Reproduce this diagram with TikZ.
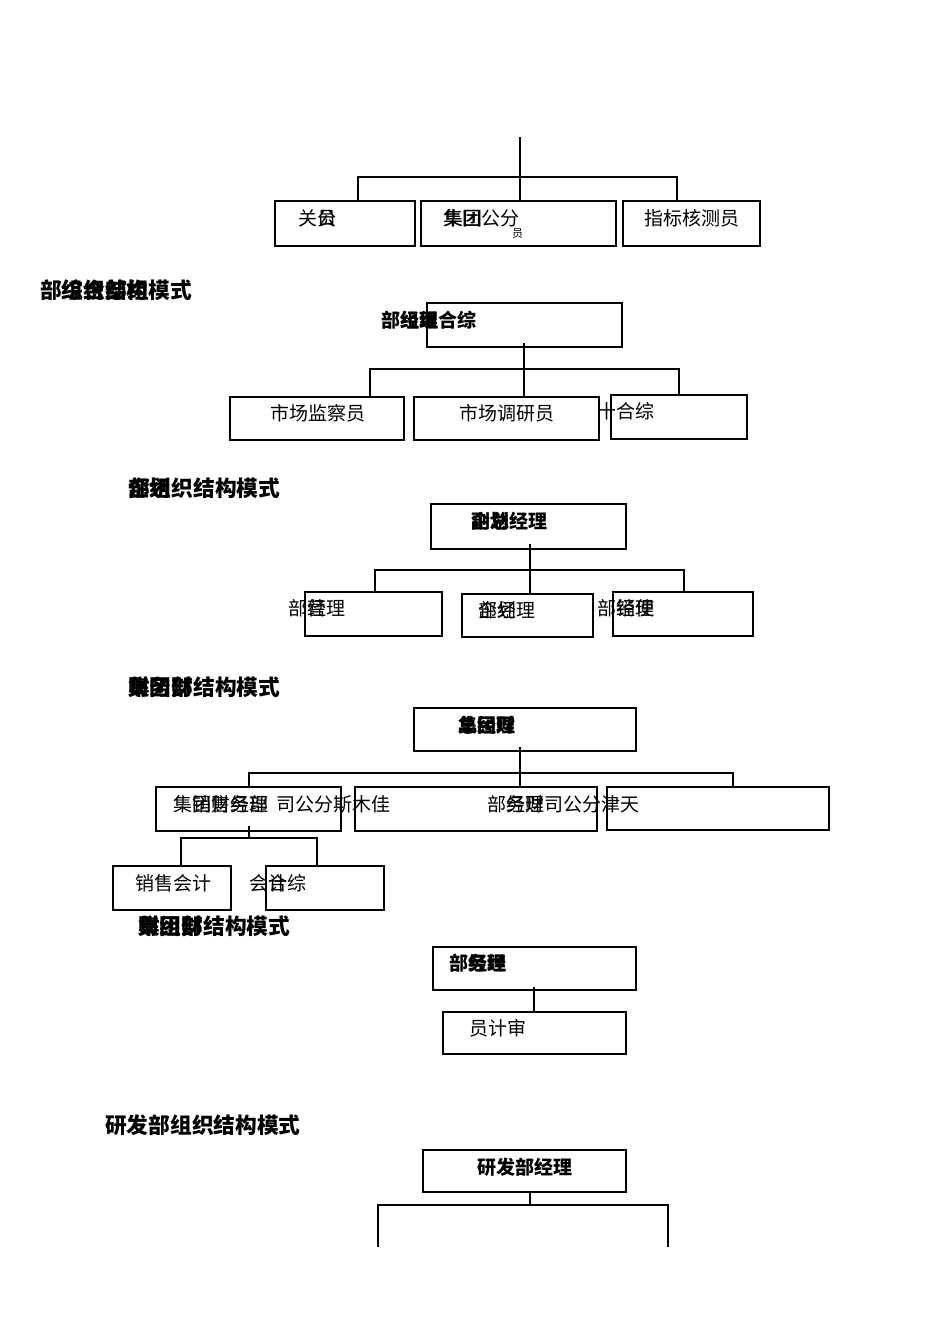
\documentclass[tikz,border=0pt]{standalone}
\usepackage{fontspec}
\newfontfamily\cjk{Noto Sans CJK SC}
\newcommand{\bodyf}{\cjk\fontsize{19}{19}\selectfont}
\newcommand{\headf}{\cjk\bfseries\fontsize{21.7}{21.7}\selectfont}
\newcommand{\boldf}{\cjk\bfseries\fontsize{19}{19}\selectfont}
\begin{document}
\begin{tikzpicture}[x=1pt,y=-1pt,
  box/.style={draw, line width=1.3pt, inner sep=0pt, outer sep=0pt},
  conn/.style={line width=1.3pt},
  lab/.style={inner sep=0pt, anchor=west, font=\bodyf},
  blab/.style={inner sep=0pt, anchor=west, font=\boldf},
  head/.style={inner sep=0pt, anchor=west, font=\headf}]
\useasboundingbox (0,0) rectangle (950,1342);
\fill[white] (0,0) rectangle (950,1342);

% ---------- section 1 ----------
\coordinate (t1) at (520,137);
\node[box, minimum width=140, minimum height=45] (a1) at (345,223.5) {};
\node[box, minimum width=195, minimum height=45] (b1) at (518.5,223.5) {};
\node[box, minimum width=137, minimum height=45] (c1) at (691.5,223.5) {};
\coordinate (h1l) at (358,177);
\coordinate (h1r) at (677,177);
\draw[conn] (t1) -- (t1 |- b1.north);
\draw[conn] (h1l |- a1.north) -- (h1l) -- (h1r) -- (h1r |- c1.north);
\node[lab] (a1t) at (298,218) {关员};
\node[lab] (a1o) at (317,218) {公};
\node[lab] (b1t) at (443,218) {集团公分};
\node[lab] (b1o) at (444,218) {集团};
\node[inner sep=0pt, anchor=west, font=\cjk\fontsize{11}{11}\selectfont] (b1s) at (512,234) {员};
\node[lab] (c1t) at (644,218) {指标核测员};

% ---------- section 2 ----------
\node[head] (h2) at (40,290) {部组织结构模式};
\node[head] (h2o) at (61.7,290) {综合部组};
\node[box, minimum width=195, minimum height=44] (top2) at (524.5,325) {};
\node[blab] (top2t) at (381,320) {部组理合综};
\node[blab] (top2o) at (400,320) {经组};
\node[box, minimum width=174, minimum height=43] (a2) at (317,418.5) {};
\node[box, minimum width=185, minimum height=43] (b2) at (506.5,418.5) {};
\node[box, minimum width=136, minimum height=44] (c2) at (679,417) {};
\coordinate (s2) at (524,343);
\coordinate (h2l) at (370,369);
\coordinate (h2r) at (679,369);
\draw[conn] (s2) -- (s2 |- b2.north);
\draw[conn] (h2l |- a2.north) -- (h2l) -- (h2r) -- (h2r |- c2.north);
\node[lab] (a2t) at (270,413) {市场监察员};
\node[lab] (b2t) at (459,413) {市场调研员};
\node[lab] (c2t) at (597,411) {十合综};

% ---------- section 3 ----------
\node[head] (h3) at (128,488) {部组织结构模式};
\node[head] (h3o) at (128,488) {企划};
\node[box, minimum width=195, minimum height=45] (top3) at (528.5,526.5) {};
\node[blab] (top3t) at (471,521) {副总经理};
\node[blab] (top3o) at (471,521) {企划};
\node[box, minimum width=137, minimum height=44] (a3) at (373.5,614) {};
\node[box, minimum width=131, minimum height=43] (b3) at (527.5,615.5) {};
\node[box, minimum width=140, minimum height=44] (c3) at (683,614) {};
\coordinate (s3) at (530,544);
\coordinate (h3l) at (375,570);
\coordinate (h3r) at (684,570);
\draw[conn] (s3) -- (s3 |- b3.north);
\draw[conn] (h3l |- a3.north) -- (h3l) -- (h3r) -- (h3r |- c3.north);
\node[lab] (a3t) at (288,608) {部经理};
\node[lab] (a3o) at (307,608) {营};
\node[lab] (b3t) at (478,610) {部经理};
\node[lab] (b3o) at (478,610) {企划};
\node[lab] (c3t) at (597,608) {部经理};
\node[lab] (c3o) at (616,608) {销使};

% ---------- section 4 ----------
\node[head] (h4) at (128,687) {集团财结构模式};
\node[head] (h4o) at (128,687) {财务部};
\node[box, minimum width=222, minimum height=43] (top4) at (525,729.5) {};
\node[blab] (top4t) at (458,725) {集团财};
\node[blab] (top4o) at (458,725) {总经理};
\node[box, minimum width=185, minimum height=44] (a4) at (248.5,809) {};
\node[box, minimum width=242, minimum height=44] (b4) at (476,809) {};
\node[box, minimum width=222, minimum height=43] (c4) at (718,808.5) {};
\coordinate (s4) at (520,747);
\coordinate (h4l) at (249,773);
\coordinate (h4r) at (733,773);
\draw[conn] (s4) -- (s4 |- b4.north);
\draw[conn] (h4l |- a4.north) -- (h4l) -- (h4r) -- (h4r |- c4.north);
\node[lab] (a4t) at (173,804) {集团财务部};
\node[lab] (a4o) at (192,804) {销售经理};
\node[lab] (a4u) at (276,804) {司公分斯木佳};
\node[lab] (b4t) at (487,804) {部务理司公分津天};
\node[lab] (b4o) at (506,804) {经财};
\node[box, minimum width=118, minimum height=44] (d4) at (172,888) {};
\node[box, minimum width=118, minimum height=44] (e4) at (325,888) {};
\coordinate (s4b) at (249,826);
\coordinate (h4bl) at (181,838);
\coordinate (h4br) at (317,838);
\draw[conn] (s4b) -- (h4bl -| s4b);
\draw[conn] (h4bl |- d4.north) -- (h4bl) -- (h4br) -- (h4br |- e4.north);
\node[lab] (d4t) at (135,883) {销售会计};
\node[lab] (e4t) at (249,883) {会计综};
\node[lab] (e4o) at (268,883) {合};

% ---------- section 5 ----------
\node[head] (h5) at (138,926) {集团财结构模式};
\node[head] (h5o) at (138,926) {财组部};
\node[box, minimum width=203, minimum height=43] (top5) at (534.5,968.5) {};
\node[blab] (top5t) at (449,963) {部经理};
\node[blab] (top5o) at (468,963) {务经};
\node[box, minimum width=183, minimum height=42] (a5) at (534.5,1033) {};
\coordinate (s5) at (534,987);
\draw[conn] (s5) -- (s5 |- a5.north);
\node[lab] (a5t) at (469,1028) {员计审};

% ---------- section 6 ----------
\node[head] (h6) at (105,1125) {研发部组织结构模式};
\node[box, minimum width=203, minimum height=42] (top6) at (524.5,1171) {};
\node[blab] (top6t) at (477,1167) {研发部经理};
\coordinate (h6l) at (378,1205);
\coordinate (h6r) at (668,1205);
\coordinate (e6l) at (378,1247);
\coordinate (e6r) at (668,1247);
\draw[conn] (top6.south -| 530,0) -- (530,1205);
\draw[conn] (e6l) -- (h6l) -- (h6r) -- (e6r);
\end{tikzpicture}
\end{document}
